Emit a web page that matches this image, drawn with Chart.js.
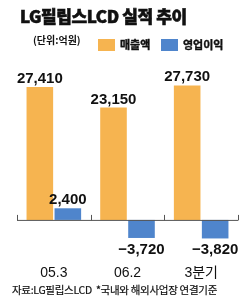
<!DOCTYPE html>
<html>
<head>
<meta charset="utf-8">
<script src="https://cdn.jsdelivr.net/npm/chart.js@4"></script>
<style>
  body { margin: 0; background: #fff; }
  #wrap { position: relative; width: 250px; height: 307px; }
  #wrap canvas { position: absolute; left: 0; top: 0; }
  .txt { position: absolute; white-space: nowrap; font-family: 'Noto Sans CJK KR', sans-serif; color: #111; }
  #title { left: 20px; top: 5px; font-size: 17px; font-weight: 900; line-height: 22px; letter-spacing: -0.4px; -webkit-text-stroke: 0.6px #111; }
  #unit { left: 33px; top: 33px; font-size: 10px; font-weight: bold; line-height: 14px; }
  #source { left: 12px; top: 283px; font-size: 10.5px; line-height: 14px; letter-spacing: -0.3px; -webkit-text-stroke: 0.2px #111; }
</style>
</head>
<body>
<div id="wrap">
  <canvas id="chart" width="250" height="307"></canvas>
  <div id="title" class="txt">LG필립스LCD 실적 추이</div>
  <div id="unit" class="txt">(단위:억원)</div>
  <div id="source" class="txt">자료:LG필립스LCD &nbsp;*국내와 해외사업장 연결기준</div>
</div>
<script>
// data (unit: 억원)
const periods = ['05.3', '06.2', '3분기'];
const sales = [27410, 23150, 27730];
const opProfit = [2400, -3720, -3820];
const seriesNames = ['매출액', '영업이익'];
const seriesColors = ['#F6B450', '#4F85CC'];

function fmt(v) {
    const s = Math.abs(v).toLocaleString('en-US');
    return v < 0 ? '\u2212' + s : s;
}

// zero line, ticks, value labels, category labels, legend
const decorPlugin = {
    id: 'decor',
    afterDatasetsDraw(chart) {
        const ctx = chart.ctx;
        const area = chart.chartArea;
        const y0 = chart.scales.y.getPixelForValue(0);
        const n = periods.length;
        const step = (area.right - area.left) / n;

        ctx.save();
        ctx.strokeStyle = '#555';
        ctx.lineWidth = 1;
        ctx.beginPath();
        ctx.moveTo(area.left, y0 + 0.5);
        ctx.lineTo(area.right, y0 + 0.5);
        for (let i = 0; i <= n; i++) {
            const x = Math.round(area.left + i * step) + 0.5;
            ctx.moveTo(x, y0 + 0.5);
            ctx.lineTo(x, y0 - 5);
        }
        ctx.stroke();

        // value labels
        ctx.fillStyle = '#111';
        ctx.font = 'bold 15px "Liberation Sans", Arial, sans-serif';
        ctx.textAlign = 'center';
        ctx.textBaseline = 'alphabetic';
        chart.data.datasets.forEach((ds, di) => {
            chart.getDatasetMeta(di).data.forEach((bar, i) => {
                const v = ds.data[i];
                const y = v >= 0 ? bar.y - 4 : bar.y + 16;
                ctx.fillText(fmt(v), bar.x, y);
            });
        });

        // category labels
        ctx.font = '14px "Liberation Sans", "Noto Sans CJK KR", sans-serif';
        periods.forEach((p, i) => {
            ctx.fillText(p, chart.scales.x.getPixelForValue(i), 277);
        });

        // legend
        ctx.textAlign = 'left';
        ctx.font = 'bold 11px "Noto Sans CJK KR", sans-serif';
        ctx.strokeStyle = '#111';
        ctx.lineWidth = 0.4;
        const legendX = [98, 161];
        chart.data.datasets.forEach((ds, di) => {
            ctx.fillStyle = ds.backgroundColor;
            ctx.fillRect(legendX[di], 39, 17, 12);
            ctx.fillStyle = '#111';
            ctx.fillText(ds.label, legendX[di] + 22, 49);
            ctx.strokeText(ds.label, legendX[di] + 22, 49);
        });
        ctx.restore();
    }
};

new Chart(document.getElementById('chart'), {
    type: 'bar',
    data: {
        labels: periods,
        datasets: [
            { label: seriesNames[0], data: sales, backgroundColor: seriesColors[0] },
            { label: seriesNames[1], data: opProfit, backgroundColor: seriesColors[1] }
        ]
    },
    options: {
        responsive: false,
        animation: false,
        categoryPercentage: 0.76,
        barPercentage: 0.95,
        layout: { padding: { left: 17, right: 12, top: 70, bottom: 57 } },
        scales: {
            x: { display: false },
            y: { display: false, min: -6200, max: 30900 }
        },
        plugins: {
            legend: { display: false },
            tooltip: { enabled: false }
        }
    },
    plugins: [decorPlugin]
});
</script>
</body>
</html>
